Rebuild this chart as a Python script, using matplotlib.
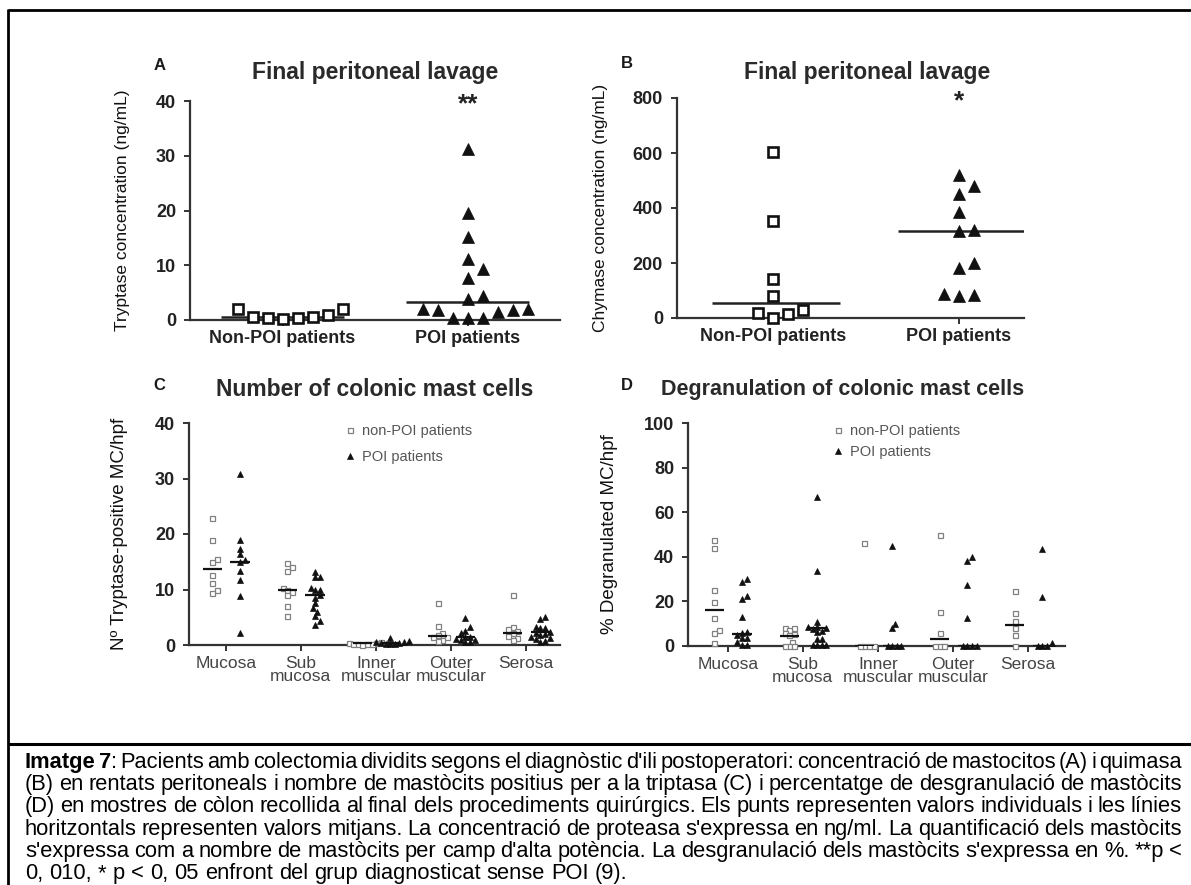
import numpy as np
import matplotlib
matplotlib.use("Agg")
import matplotlib.pyplot as plt
from matplotlib.lines import Line2D

plt.rcParams["font.family"] = ["Liberation Sans", "DejaVu Sans"]

W, H = 1191, 885

# A - tryptase in final peritoneal lavage (ng/mL)
groups_ab = ["Non-POI patients", "POI patients"]
tryp_non = [2.1, 0.6, 0.4, 0.1, 0.3, 0.6, 1.0, 2.1]
tryp_poi = [31.3, 19.5, 15.2, 11.2, 9.4, 7.7, 4.4, 3.8, 2.1, 1.8, 0.4, 0.3, 0.3, 1.4, 1.8, 2.1]
tryp_line = [0.5, 3.2]

# B - chymase in final peritoneal lavage (ng/mL)
chym_non = [604, 351, 142, 79, 18, 0, 16, 30]
chym_poi = [519, 479, 452, 385, 315, 321, 200, 182, 88, 79, 85]
chym_line = [55, 318]

layers = ["Mucosa", "Sub\nmucosa", "Inner\nmuscular", "Outer\nmuscular", "Serosa"]

# C - tryptase-positive mast cells per hpf
count_non = [
    [22.9, 18.9, 15.5, 14.9, 12.6, 11.2, 9.9, 9.3],
    [14.7, 14.0, 13.4, 10.2, 9.9, 9.6, 9.0, 7.1, 5.2],
    [0.6, 0.4, 0.3, 0.2, 0.2, 0.1, 0.1, 0.0],
    [7.5, 3.5, 2.1, 1.8, 1.5, 1.4, 0.9, 0.7],
    [9.0, 3.3, 2.8, 2.6, 2.1, 1.6, 1.2, 0.9],
]
count_poi = [
    [30.9, 18.9, 17.3, 16.4, 15.3, 15.0, 13.4, 11.7, 8.8, 2.2],
    [13.2, 12.3, 12.3, 10.2, 10.0, 9.9, 9.0, 8.4, 7.5, 6.6, 6.0, 5.2, 4.3, 3.6],
    [1.3, 0.8, 0.6, 0.5, 0.4, 0.3, 0.2, 0.1, 0.1],
    [4.8, 3.3, 2.6, 2.1, 1.5, 1.5, 1.0, 0.9, 0.9, 0.6, 0.6],
    [5.0, 4.6, 3.3, 3.0, 3.0, 2.4, 2.1, 2.0, 1.8, 1.4, 1.2, 1.0, 0.8, 0.6],
]
count_line_non = [13.7, 9.9, 0.3, 1.6, 2.2]
count_line_poi = [15.0, 9.0, 0.3, 1.4, 2.4]

# D - % degranulated mast cells per hpf
degr_non = [
    [47.6, 43.9, 24.9, 19.6, 12.7, 7.2, 5.7, 1.5],
    [8.2, 7.9, 7.2, 6.0, 5.4, 4.9, 1.9, 0, 0, 0],
    [46.4, 0, 0, 0, 0],
    [49.6, 15.1, 6.0, 0, 0, 0],
    [24.8, 14.7, 11.0, 8.0, 5.0, 0],
]
degr_poi = [
    [29.9, 28.6, 22.2, 21.0, 13.2, 6.4, 5.7, 4.9, 3.7, 3.4, 1.9, 0.4, 0.4],
    [66.8, 33.8, 10.9, 8.7, 8.7, 7.9, 7.5, 6.9, 6.4, 3.0, 3.0, 0.4, 0.4, 0.4, 0.4],
    [44.9, 9.9, 7.9, 0, 0, 0, 0],
    [39.7, 38.2, 27.4, 12.4, 0, 0, 0, 0],
    [43.4, 21.8, 1.2, 0, 0, 0],
]
degr_line_non = [16.2, 4.5, 0, 3.0, 9.4]
degr_line_poi = [5.4, 7.9, 0, 0, 0]

caption_lines = [
    "Imatge 7: Pacients amb colectomia dividits segons el diagnòstic d'ili postoperatori: concentració de mastocitos (A) i quimasa",
    "(B) en rentats peritoneals i nombre de mastòcits positius per a la triptasa (C) i percentatge de desgranulació de mastòcits",
    "(D) en mostres de còlon recollida al final dels procediments quirúrgics. Els punts representen valors individuals i les línies",
    "horitzontals representen valors mitjans. La concentració de proteasa s'expressa en ng/ml. La quantificació dels mastòcits",
    "s'expressa com a nombre de mastòcits per camp d'alta potència. La desgranulació dels mastòcits s'expressa en %. **p <",
    "0, 010, * p < 0, 05 enfront del grup diagnosticat sense POI (9).",
]

DARK = "#222222"


def px_axes(fig, x0, y0, x1, y1):
    return fig.add_axes([x0 / W, 1 - y1 / H, (x1 - x0) / W, (y1 - y0) / H])


def fig_text(fig, x, y, s, **kw):
    return fig.text(x / W, 1 - y / H, s, **kw)


def style_axes(ax):
    for s in ("top", "right"):
        ax.spines[s].set_visible(False)
    for s in ("left", "bottom"):
        ax.spines[s].set_linewidth(1.6)
        ax.spines[s].set_color("#333333")
    ax.tick_params(colors="#333333", width=1.4, length=4, labelcolor=DARK)
    ax.tick_params(axis="y", pad=6)
    ax.set_facecolor("none")


def swarm(ax, vals, step):
    # horizontal offsets (x data units) so that markers step px apart don't overlap
    vals = np.asarray(vals, float)
    ys = ax.transData.transform(np.c_[np.zeros(len(vals)), vals])[:, 1]
    sx = ax.transData.transform([(1, 0)])[0, 0] - ax.transData.transform([(0, 0)])[0, 0]
    placed = []
    offs = np.zeros(len(vals))
    for i in np.argsort(ys, kind="stable"):
        k = 0
        while True:
            dx = (k + 1) // 2 * step / 2 * (1 if k % 2 else -1)
            if all((dx - px) ** 2 + (ys[i] - py) ** 2 >= (step - 0.01) ** 2 for px, py in placed):
                break
            k += 1
        placed.append((dx, ys[i]))
        offs[i] = dx / sx
    return offs


def group(ax, x, vals, kind, big, step, label=None):
    offs = swarm(ax, vals, step)
    if kind == "sq":
        if big:
            st = dict(marker="s", ms=7, mfc="white", mec="#111111", mew=1.9)
        else:
            st = dict(marker="s", ms=3.6, mfc="white", mec="#808080", mew=0.9)
    else:
        st = dict(marker="^", ms=8.5 if big else 4.2, mfc="#111111", mec="#111111", mew=0.5)
    h, = ax.plot(x + offs, vals, ls="none", clip_on=False, zorder=3, label=label, **st)
    return h


fig = plt.figure(figsize=(W / 100, H / 100), dpi=100)

# ---- A
axA = px_axes(fig, 190, 101, 560, 320)
axA.set_xlim(-0.5, 1.5)
axA.set_ylim(0, 40)
style_axes(axA)
axA.set_yticks([0, 10, 20, 30, 40])
axA.set_xticks([0, 1], groups_ab)
axA.tick_params(axis="x", pad=3)
for t in axA.get_xticklabels() + axA.get_yticklabels():
    t.set_fontsize(13)
    t.set_fontweight("bold")
group(axA, 0, tryp_non, "sq", True, 15)
group(axA, 1, tryp_poi, "tri", True, 15)
axA.hlines(tryp_line, np.arange(2) - 0.33, np.arange(2) + 0.33, color=DARK, lw=1.8, zorder=2)
axA.set_ylabel("Tryptase concentration (ng/mL)", fontsize=12.5, color="#111111")
axA.yaxis.set_label_coords(-0.162, 0.5)

# ---- B
axB = px_axes(fig, 677, 98, 1024, 318)
axB.set_xlim(-0.516, 1.35)
axB.set_ylim(0, 800)
style_axes(axB)
axB.set_yticks([0, 200, 400, 600, 800])
axB.set_xticks([0, 1], groups_ab)
axB.tick_params(axis="x", pad=3)
for t in axB.get_xticklabels() + axB.get_yticklabels():
    t.set_fontsize(13)
    t.set_fontweight("bold")
group(axB, 0, chym_non, "sq", True, 15)
group(axB, 1, chym_poi, "tri", True, 15)
axB.hlines(chym_line, np.arange(2) - 0.33, np.arange(2) + 0.36, color=DARK, lw=1.8, zorder=2)
axB.set_ylabel("Chymase concentration (ng/mL)", fontsize=12.5, color="#111111")
axB.yaxis.set_label_coords(-0.2, 0.5)


# ---- C and D
def layer_panel(ax, xlim, non, poi, line_non, line_poi, ymax, yticks, ylabel, lab_x, leg_x, leg_space):
    ax.set_xlim(*xlim)
    ax.set_ylim(0, ymax)
    style_axes(ax)
    ax.set_yticks(yticks)
    ax.set_xticks(range(len(layers)), layers, fontsize=12.5, color="#444444", linespacing=0.85)
    ax.tick_params(axis="x", pad=4)
    for t in ax.get_yticklabels():
        t.set_fontsize(13)
        t.set_fontweight("bold")
    pos = np.arange(len(layers))
    hn = hp = None
    for i in range(len(layers)):
        a = group(ax, pos[i] - 0.18, non[i], "sq", False, 4.6, "non-POI patients" if i == 0 else None)
        b = group(ax, pos[i] + 0.19, poi[i], "tri", False, 4.6, "POI patients" if i == 0 else None)
        if i == 0:
            hn, hp = a, b
    ax.hlines(line_non, pos - 0.18 - 0.13, pos - 0.18 + 0.13, color="#111111", lw=1.6, zorder=4)
    ax.hlines(line_poi, pos + 0.19 - 0.13, pos + 0.19 + 0.13, color="#111111", lw=1.6, zorder=4)
    ax.set_ylabel(ylabel, fontsize=13.5, color="#111111")
    ax.yaxis.set_label_coords(lab_x, 0.5)
    ax.legend(handles=[hn, hp], loc="upper left", bbox_to_anchor=(leg_x, 0.995), frameon=False,
              fontsize=10.5, labelcolor="#555555", handlelength=0.8, handletextpad=0.4,
              borderpad=0, borderaxespad=0, labelspacing=leg_space)


axC = px_axes(fig, 189, 423, 560, 645)
axD = px_axes(fig, 688, 423, 1065, 646)
layer_panel(axC, (-0.49, 4.45), count_non, count_poi, count_line_non, count_line_poi, 40,
            [0, 10, 20, 30, 40], "Nº Tryptase-positive MC/hpf", -0.164, 0.418, 0.8)
layer_panel(axD, (-0.53, 4.49), degr_non, degr_poi, degr_line_non, degr_line_poi, 100,
            [0, 20, 40, 60, 80, 100], "% Degranulated MC/hpf", -0.186, 0.382, 0.45)

# titles, panel letters and significance marks
for x, y, s, fs in [(375, 72, "Final peritoneal lavage", 16.5), (867, 72, "Final peritoneal lavage", 16.5),
                    (375, 390, "Number of colonic mast cells", 16.5),
                    (843, 390, "Degranulation of colonic mast cells", 15.5)]:
    fig_text(fig, x, y, s, ha="center", va="center", fontsize=fs, fontweight="bold", color="#2a2a2a")
for x, y, s in [(160, 65, "A"), (627, 64, "B"), (159, 385, "C"), (627, 385, "D")]:
    fig_text(fig, x, y, s, ha="center", va="center", fontsize=12, fontweight="bold", color="#1a1a1a")
fig_text(fig, 468, 104, "**", ha="center", va="center", fontsize=19, fontweight="bold", color=DARK)
fig_text(fig, 959, 101, "*", ha="center", va="center", fontsize=19, fontweight="bold", color=DARK)


# frame
def px_line(x0, y0, x1, y1, lw):
    fig.add_artist(Line2D([x0 / W, x1 / W], [1 - y0 / H, 1 - y1 / H], transform=fig.transFigure,
                          color="black", lw=lw, solid_capstyle="butt"))


px_line(8, 10, W + 2, 10, 2.0)
px_line(8, 9, 8, H + 2, 2.0)
px_line(8, 744, W + 2, 744, 2.2)

# caption, justified like the source document
renderer = fig.canvas.get_renderer()
x_left, x_right = 25, 1182
min_gap = 3.0
rows = []
for li, line in enumerate(caption_lines):
    pieces = []
    for wi, w in enumerate(line.split(" ")):
        if li == 0 and wi == 0:
            segs = [(w, "bold")]
        elif li == 0 and wi == 1:
            segs = [(w[:-1], "bold"), (w[-1], "normal")]
        else:
            segs = [(w, "normal")]
        pieces.append([fig_text(fig, 0, 768 + li * 22.2, s, fontsize=15, fontweight=wt,
                                color="black", ha="left", va="baseline") for s, wt in segs])
    rows.append(pieces)


def word_width(ts):
    return sum(t.get_window_extent(renderer).width for t in ts)


# largest size at which every justified line still keeps min_gap between words
scale = min((x_right - x_left - (len(p) - 1) * min_gap) / sum(word_width(ts) for ts in p)
            for p in rows[:-1])
cap_size = 15 * scale
for li, pieces in enumerate(rows):
    for ts in pieces:
        for t in ts:
            t.set_fontsize(cap_size)
    widths = [word_width(ts) for ts in pieces]
    if li < len(rows) - 1:
        gap = (x_right - x_left - sum(widths)) / (len(widths) - 1)
    else:
        gap = 0.278 * cap_size * 100 / 72
    x = x_left
    for ts in pieces:
        for t in ts:
            t.set_x(x / W)
            x += t.get_window_extent(renderer).width
        x += gap

fig.savefig("out.png", dpi=100)
